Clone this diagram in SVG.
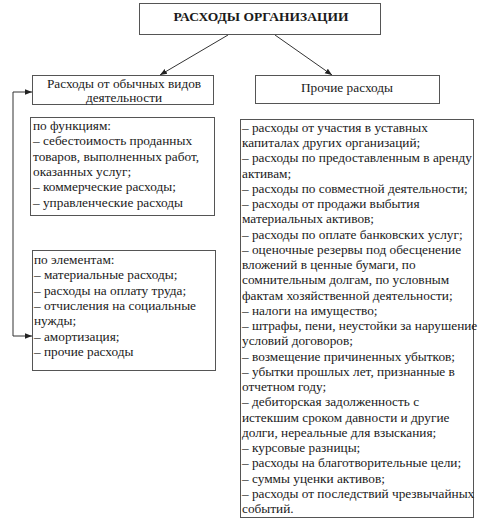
<svg xmlns="http://www.w3.org/2000/svg" width="483" height="524" viewBox="0 0 483 524">
<style>
.box{fill:#fff;stroke:#555;stroke-width:1}
text{font-family:"Liberation Serif","Times New Roman",serif;font-size:13.3px;fill:#1a1a1a}
.title{font-weight:bold;font-size:13.5px}
.c{text-anchor:middle}
.ln{stroke:#333;stroke-width:1;fill:none}
</style>
<defs>
<marker id="ah" viewBox="0 0 10 10" refX="10" refY="5" markerWidth="7" markerHeight="7" orient="auto" markerUnits="userSpaceOnUse">
<path d="M0,1 L10,5 L0,9 z" fill="#222"/>
</marker>
</defs>
<rect width="483" height="524" fill="#fff"/>
<g id="connectors">
<line class="ln" x1="228" y1="35" x2="160" y2="75" marker-end="url(#ah)"/>
<line class="ln" x1="275" y1="35" x2="332" y2="75" marker-end="url(#ah)"/>
<polyline class="ln" points="13,92 13,336 32,336" marker-end="url(#ah)"/>
<line class="ln" x1="13" y1="92" x2="32" y2="92" marker-end="url(#ah)"/>
</g>
<g id="root">
<rect class="box" x="139.5" y="3.5" width="241" height="31"/>
<text class="title c" x="261" y="21">РАСХОДЫ ОРГАНИЗАЦИИ</text>
</g>
<g id="ordinary">
<rect class="box" x="32.5" y="75.5" width="181" height="29"/>
<text class="c" x="124" y="88">Расходы от обычных видов</text>
<text class="c" x="124" y="102">деятельности</text>
</g>
<g id="other">
<rect class="box" x="255.5" y="75.5" width="184" height="28"/>
<text class="c" x="347" y="92">Прочие расходы</text>
</g>
<g id="functions">
<rect class="box" x="30.5" y="117.5" width="184" height="98"/>
<text x="33" y="130">по функциям:</text>
<text x="33" y="145.3">– себестоимость проданных</text>
<text x="33" y="160.6">товаров, выполненных работ,</text>
<text x="33" y="175.9">оказанных услуг;</text>
<text x="33" y="191.2">– коммерческие расходы;</text>
<text x="33" y="206.5">– управленческие расходы</text>
</g>
<g id="elements">
<rect class="box" x="32.5" y="250.5" width="183" height="120"/>
<text x="34" y="264">по элементам:</text>
<text x="34" y="279.3">– материальные расходы;</text>
<text x="34" y="294.6">– расходы на оплату труда;</text>
<text x="34" y="309.9">– отчисления на социальные</text>
<text x="34" y="325.2">нужды;</text>
<text x="34" y="340.5">– амортизация;</text>
<text x="34" y="355.8">– прочие расходы</text>
</g>
<g id="other-list">
<rect class="box" x="240.5" y="119.5" width="233" height="398"/>
<text x="242" y="132">– расходы от участия в уставных</text>
<text x="242" y="147.24">капиталах других организаций;</text>
<text x="242" y="162.48">– расходы по предоставленным в аренду</text>
<text x="242" y="177.72">активам;</text>
<text x="242" y="192.96">– расходы по совместной деятельности;</text>
<text x="242" y="208.2">– расходы от продажи выбытия</text>
<text x="242" y="223.44">материальных активов;</text>
<text x="242" y="238.68">– расходы по оплате банковских услуг;</text>
<text x="242" y="253.92">– оценочные резервы под обесценение</text>
<text x="242" y="269.16">вложений в ценные бумаги, по</text>
<text x="242" y="284.4">сомнительным долгам, по условным</text>
<text x="242" y="299.64">фактам хозяйственной деятельности;</text>
<text x="242" y="314.88">– налоги на имущество;</text>
<text x="242" y="330.12">– штрафы, пени, неустойки за нарушение</text>
<text x="242" y="345.36">условий договоров;</text>
<text x="242" y="360.6">– возмещение причиненных убытков;</text>
<text x="242" y="375.84">– убытки прошлых лет, признанные  в</text>
<text x="242" y="391.08">отчетном году;</text>
<text x="242" y="406.32">– дебиторская задолженность с</text>
<text x="242" y="421.56">истекшим сроком давности и другие</text>
<text x="242" y="436.8">долги, нереальные для взыскания;</text>
<text x="242" y="452.04">– курсовые разницы;</text>
<text x="242" y="467.28">– расходы на благотворительные цели;</text>
<text x="242" y="482.52">– суммы уценки активов;</text>
<text x="242" y="497.76">– расходы от последствий чрезвычайных</text>
<text x="242" y="513">событий.</text>
</g>
</svg>
